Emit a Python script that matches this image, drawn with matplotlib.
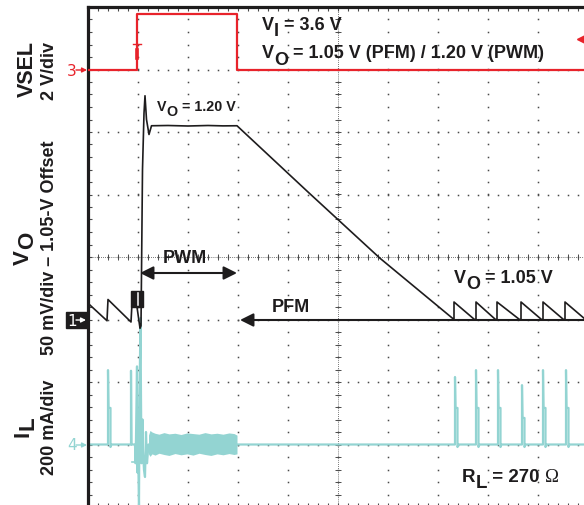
import matplotlib
matplotlib.use("Agg")
import matplotlib.pyplot as plt
from matplotlib.patches import Rectangle, FancyArrowPatch
import numpy as np

plt.rcParams["font.family"] = ["Liberation Sans", "DejaVu Sans"]

RED = "#e8232b"
CYAN = "#93d4d2"
INK = "#1e1c1d"
DOT = "#4a4a4a"

# scope screen: 10 x 8 divisions
VSEL_REF, VSEL_SCALE = 7, 2.0                  # ch3, V/div
VO_REF, VO_OFFSET, VO_SCALE = 3, 1.05, 0.05    # ch1, V/div with 1.05 V offset
IL_REF, IL_SCALE = 1, 200.0                    # ch4, mA/div

# VSEL (V) vs time (div)
vsel_t = [0.0, 0.98, 0.98, 2.98, 2.98, 10.2]
vsel_v = [0.0, 0.0, 1.78, 1.78, 0.0, 0.0]
trig_t = 0.98
trig_level = 0.98

# VO (V): PFM ripple, step to 1.20 V in PWM, ramp back down
vo_t = [0.00, 0.38, 0.40, 0.86, 0.88, 0.98, 1.04, 1.06, 1.09, 1.12, 1.14, 1.17,
        1.22, 1.27, 1.60, 2.00, 2.40, 2.70, 2.98, 4.40, 5.84, 7.32]
vo_v = [1.063, 1.049, 1.066, 1.048, 1.063, 1.060, 1.043, 1.045, 1.170, 1.215, 1.229, 1.210,
        1.198, 1.205, 1.2052, 1.2048, 1.2052, 1.2049, 1.205, 1.152, 1.099, 1.050]

# PFM pulses after the ramp
pfm_t = [7.32, 7.76, 8.18, 8.66, 9.10, 9.54, 9.98]
pfm_peak = [1.064, 1.064, 1.064, 1.064, 1.064, 1.064, 1.064]
pfm_floor = 1.050

# IL (mA): single pulses
spike_t = [0.40, 0.86, 7.34, 7.76, 8.20, 8.68, 9.10, 9.56]
spike_peak = [238, 236, 216, 238, 238, 190, 238, 238]
spike_shoulder = [117, 0, 117, 117, 117, 85, 117, 117]

# IL during the mode change
burst_t = [0.94, 0.95, 0.96, 0.98, 0.99, 1.00, 1.02, 1.03, 1.05, 1.06, 1.07,
           1.09, 1.10, 1.12, 1.14, 1.16, 1.18, 1.21]
burst_ma = [0, -60, 20, 250, -90, 0, -194, 150, 405, 150, -60,
            80, -20, -82, -104, 40, -60, 0]

# IL ripple band in PWM
band_t = [1.21, 1.24, 1.28, 1.34, 1.42, 1.52, 1.62, 1.74, 1.86, 1.98, 2.10,
          2.22, 2.34, 2.46, 2.58, 2.70, 2.82, 2.92, 2.98]
band_hi = [30, 45, 40, 36, 33, 38, 34, 36, 32, 37, 35, 33, 38, 34, 36, 33, 37, 35, 30]
band_lo = [-30, -38, -30, -34, -28, -32, -35, -29, -33, -30, -34, -28, -32, -35, -30, -33, -29, -32, -30]

W, H = 584, 505


def to_div(xp, yp):
    return (xp - 88) / 50, (507 - yp) / 62.5


def vsel_y(v):
    return VSEL_REF + np.asarray(v) / VSEL_SCALE


def vo_y(v):
    return VO_REF + (np.asarray(v) - VO_OFFSET) / VO_SCALE


def il_y(ma):
    return IL_REF + np.asarray(ma) / IL_SCALE


fig = plt.figure(figsize=(W / 100, H / 100), dpi=100)
ax = fig.add_axes([88 / W, (H - 507) / H, 500 / W, 500 / H])
ax.set_xlim(0, 10)
ax.set_ylim(0, 8)

# graticule
for sp in ax.spines.values():
    sp.set_linewidth(2.3)
    sp.set_color(INK)
ax.set_xticks(range(11))
ax.set_yticks(range(9))
ax.set_xticks(np.arange(0, 10.01, 0.2), minor=True)
ax.set_yticks(np.arange(0, 8.01, 0.2), minor=True)
ax.tick_params(which="both", direction="in", length=3, width=0.8, colors=DOT,
               top=True, right=True, labelbottom=False, labelleft=False)

minor_x = np.arange(0.2, 10, 0.2)
minor_y = np.arange(0.2, 8, 0.2)
for gx in range(1, 10):
    ax.plot(np.full(len(minor_y), gx), minor_y, ls="none", marker="s", ms=1.1,
            color=DOT, mew=0, zorder=1)
for gy in range(1, 8):
    ax.plot(minor_x, np.full(len(minor_x), gy), ls="none", marker="s", ms=1.1,
            color=DOT, mew=0, zorder=1)
ax.plot([0, 10], [4, 4], ls=(0, (1, 1.5)), lw=0.6, color=DOT, zorder=1)
ax.plot([5, 5], [0, 8], ls=(0, (1, 1.5)), lw=0.6, color=DOT, zorder=1)
ax.plot(minor_x, np.full(len(minor_x), 4), ls="none", marker="|", ms=4, mew=0.7, color=DOT, zorder=1)
ax.plot(np.full(len(minor_y), 5), minor_y, ls="none", marker="_", ms=4, mew=0.7, color=DOT, zorder=1)

# IL trace
il_x, il_v = [0.0], [0.0]


def add_spike(t, peak, sh):
    il_x.extend([t, t])
    il_v.extend([0, peak])
    if sh:
        il_x.extend([t + 0.01, t + 0.05, t + 0.05, t + 0.07])
        il_v.extend([sh, sh, -8, 0])
    else:
        il_x.append(t + 0.01)
        il_v.append(0)


for t, p, s in zip(spike_t, spike_peak, spike_shoulder):
    if t < burst_t[0]:
        add_spike(t, p, s)
il_x.extend(burst_t)
il_v.extend(burst_ma)
il_x.append(band_t[-1])
il_v.append(0)
for t, p, s in zip(spike_t, spike_peak, spike_shoulder):
    if t > band_t[-1]:
        add_spike(t, p, s)
il_x.append(10.2)
il_v.append(0)

ax.plot(il_x, il_y(il_v), color=CYAN, lw=1.6, zorder=2)
ax.fill_between(band_t, il_y(band_lo), il_y(band_hi), color=CYAN, lw=0, zorder=2)
ax.plot([trig_t - 0.1, trig_t + 0.1], [il_y(-55)] * 2, color=CYAN, lw=1.2, zorder=2)

# VO trace
vx, vv = list(vo_t), list(vo_v)
for i, t in enumerate(pfm_t):
    t_next = pfm_t[i + 1] if i + 1 < len(pfm_t) else 10.4
    vx.extend([t, t, t_next - 0.03, t_next])
    vv.extend([pfm_floor, pfm_peak[i], pfm_floor, pfm_floor])
ax.plot(vx, vo_y(vv), color=INK, lw=1.2, zorder=3)

# VSEL trace
ax.plot(vsel_t, vsel_y(vsel_v), color=RED, lw=1.6, zorder=3)

# trigger markers
ax.plot([trig_t - 0.08, trig_t + 0.08], [7.41, 7.41], color=RED, lw=1.0, zorder=5)
ax.plot([trig_t, trig_t], [7.41, 7.19], color=RED, lw=1.0, zorder=5)
ax.plot([trig_t, trig_t], [7.31, 7.19], color=RED, lw=2.6, zorder=5)
ax.plot(9.9, vsel_y(trig_level), marker="<", ms=9, color=RED, clip_on=False, zorder=5)
ax.add_patch(Rectangle((trig_t - 0.12, 3.2), 0.24, 0.256, color=INK, zorder=6))
ax.plot([trig_t + 0.02, trig_t + 0.02], [3.23, 3.42], color="white", lw=1.1, zorder=7)


# annotations with full-size subscripts
def rich_text(xp, yp, parts, size, ha="left"):
    sub_off = 0.34 * size
    x, y = to_div(xp, yp)
    t, prev = None, 0.0
    for part in parts:
        s, sub = part[0], part[1]
        style = dict(fontsize=size, fontweight="bold", color=INK, zorder=8)
        if len(part) > 2:
            style.update(part[2])
        dy = -sub_off if sub else 0.0
        if t is None:
            t = ax.text(x, y, s, ha=ha, va="baseline", **style)
        else:
            t = ax.annotate(s, xy=(1, 0), xycoords=t, xytext=(0, dy - prev),
                            textcoords="offset points", ha="left", va="bottom", **style)
        prev = dy
    return t


rich_text(262, 29.5, [("V", False), ("I", True), (" = 3.6 V", False)], 13)
rich_text(262, 58.5, [("V", False), ("O", True), (" = 1.05 V (PFM) / 1.20 V (PWM)", False)], 13)
rich_text(157, 111, [("V", False), ("O", True), (" = 1.20 V", False)], 10.3)
rich_text(454, 283, [("V", False), ("O", True), (" = 1.05 V", False)], 13)
rich_text(462, 482, [("R", False), ("L", True), (" = 270 ", False),
                     ("\u03a9", False, {"fontweight": "normal",
                                        "family": ["Liberation Serif", "DejaVu Serif"]})], 13.5)
rich_text(185, 263, [("PWM", False)], 13, ha="center")
rich_text(272, 312, [("PFM", False)], 13)

arrow_kw = dict(color=INK, lw=1.5, mutation_scale=20, shrinkA=0, shrinkB=0)
ax.annotate("", xy=to_div(140, 273), xytext=to_div(237, 273),
            arrowprops=dict(arrowstyle="<|-|>", **arrow_kw))
ax.annotate("", xy=to_div(240, 320), xytext=to_div(620, 320),
            arrowprops=dict(arrowstyle="-|>", **arrow_kw))


# left-side channel labels
def fig_text(xp, yp, s, **kw):
    fig.text(xp / W, 1 - yp / H, s, **kw)


def fig_arrow(x0, x1, yp, color):
    fig.add_artist(FancyArrowPatch((x0 / W, 1 - yp / H), (x1 / W, 1 - yp / H),
                                   transform=fig.transFigure, arrowstyle="-|>",
                                   color=color, lw=1.0, mutation_scale=7,
                                   shrinkA=0, shrinkB=0, zorder=5))


rot = dict(rotation=90, ha="center", va="bottom", fontweight="bold", color=INK)
fig_text(27, 97, "VSEL", fontsize=15.5, **rot)
fig_text(50, 100, "2 V/div", fontsize=13, **rot)
fig_text(23, 265, "V", fontsize=16, **rot)
fig_text(28, 249, "O", fontsize=16, **rot)
fig_text(50, 355, "50 mV/div \u2013 1.05-V Offset", fontsize=13, **rot)
fig_text(23, 437, "I", fontsize=16, **rot)
fig_text(28, 430, "L", fontsize=16, **rot)
fig_text(50, 475, "200 mA/div", fontsize=13, **rot)

mark = dict(ha="center", va="center", fontsize=11, family="DejaVu Sans")
fig_text(72, 71, "3", color=RED, **mark)
fig_arrow(76, 87, 70, RED)
fig.add_artist(Rectangle((66 / W, 1 - 328 / H), 21 / W, 16 / H,
                         transform=fig.transFigure, color=INK, zorder=2))
fig_text(72, 321, "1", color="white", zorder=4, **mark)
fig_arrow(76, 86, 320, "white")
fig_text(72, 446, "4", color=CYAN, **mark)
fig_arrow(76, 87, 445, CYAN)

fig.savefig("out.png", dpi=100)
